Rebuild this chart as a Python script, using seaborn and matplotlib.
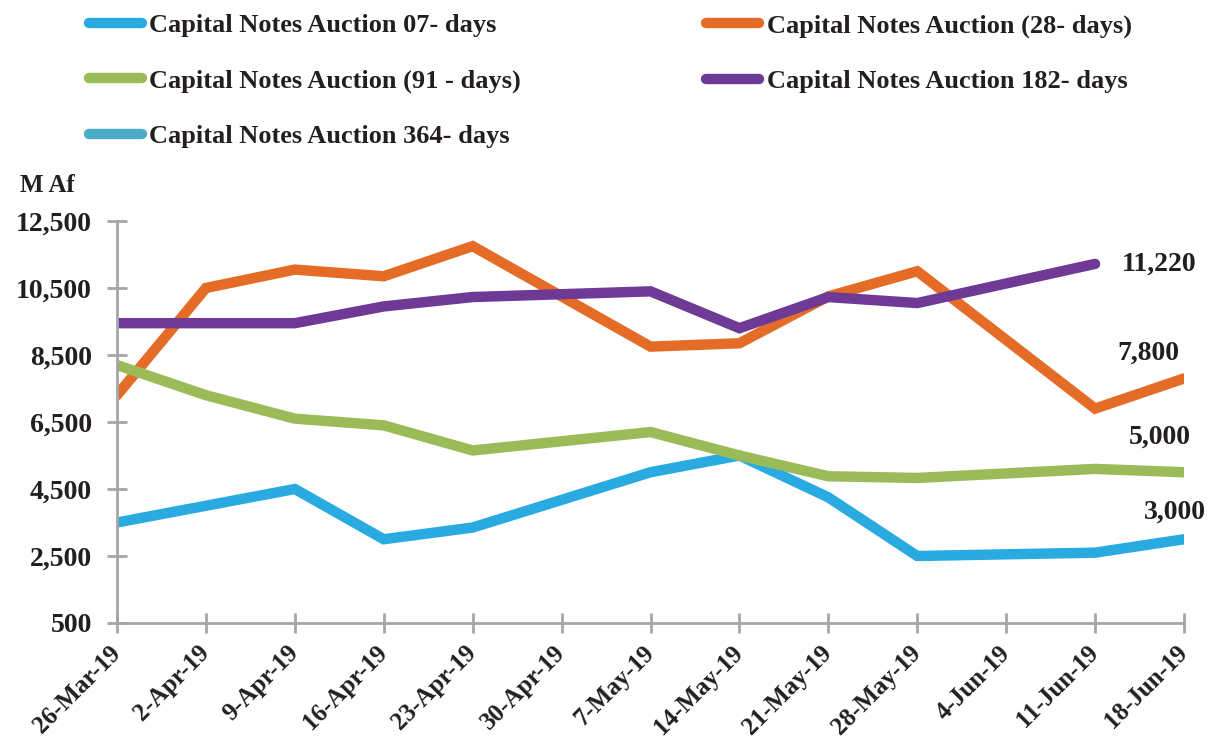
import numpy as np
import pandas as pd
import matplotlib
matplotlib.use("Agg")
import matplotlib.pyplot as plt
from matplotlib.lines import Line2D
import seaborn as sns

dates = ["26-Mar-19", "2-Apr-19", "9-Apr-19", "16-Apr-19", "23-Apr-19", "30-Apr-19",
         "7-May-19", "14-May-19", "21-May-19", "28-May-19", "4-Jun-19", "11-Jun-19", "18-Jun-19"]
nan = np.nan
d07 = [3500, 4000, 4500, 3000, 3350, nan, 5000, 5500, 4250, 2500, nan, 2600, 3000]
d28 = [7300, 10500, 11050, 10850, 11750, nan, 8750, 8850, 10250, 11000, nan, 6900, 7800]
d91 = [8200, 7300, 6600, 6400, 5650, nan, 6200, 5500, 4880, 4830, nan, 5100, 5000]
d182 = [9450, 9450, 9450, 9950, 10230, nan, 10400, 9300, 10230, 10050, nan, 11220, nan]
d364 = [nan] * 13

names = ["Capital Notes Auction 07- days", "Capital Notes Auction (28- days)",
         "Capital Notes Auction (91 - days)", "Capital Notes Auction 182- days",
         "Capital Notes Auction 364- days"]
series = [d07, d28, d91, d182, d364]
colors = ["#29ABE2", "#E46C26", "#9BBB59", "#6F3996", "#4BACC6"]

yticks = [500, 2500, 4500, 6500, 8500, 10500, 12500]
ylabels = ["500", "2,500", "4,500", "6,500", "8,500", "10,500", "12,500"]

sns.set_style("white")
plt.rcParams["font.family"] = ["Liberation Serif", "DejaVu Serif"]
plt.rcParams["font.weight"] = "bold"

rows = []
for name, vals in zip(names, series):
    for i, v in enumerate(vals):
        rows.append({"series": name, "x": i, "value": v})
df = pd.DataFrame(rows).dropna()

fig = plt.figure(figsize=(12.10, 7.49), dpi=100)
ax = fig.add_axes([117 / 1210, 1 - 623 / 749, (1184 - 117) / 1210, (623 - 221) / 749])

sns.lineplot(data=df, x="x", y="value", hue="series", hue_order=names,
             palette=dict(zip(names, colors)), linewidth=7.5, legend=False,
             ax=ax, sort=True, estimator=None, solid_capstyle="round",
             solid_joinstyle="miter")

ax.set_xlim(0, 12)
ax.set_ylim(500, 12500)
ax.set_yticks(yticks)
ax.set_yticklabels(ylabels)
ax.set_xticks(range(len(dates)))
ax.set_xticklabels(dates, rotation=45, ha="right", va="center", rotation_mode="anchor")
ax.set_xlabel("")
ax.set_ylabel("")
for s in ["top", "right"]:
    ax.spines[s].set_visible(False)
for s in ["left", "bottom"]:
    ax.spines[s].set_color("#A6A6A6")
    ax.spines[s].set_linewidth(2)
    ax.spines[s].set_clip_on(False)
ax.tick_params(axis="both", direction="inout", length=14, width=2, color="#A6A6A6",
               labelsize=20, labelcolor="#231F20", bottom=True, left=True)
ax.tick_params(axis="x", labelsize=18, pad=12)
ax.tick_params(axis="y", pad=11)
for lab in ax.get_xticklabels() + ax.get_yticklabels():
    lab.set_fontweight("bold")
for lab in ax.get_xticklabels():
    lab.set_x(lab.get_position()[0])

# data labels
ann = [(11, d182[11], 27, 0, "left"), (12, d28[12], -36, 25, "center"),
       (12, d91[12], -24, 35, "center"), (12, d07[12], -9, 27, "center")]
for x, v, dx, dy, ha in ann:
    ax.annotate(f"{v:,.0f}", (x, v), xytext=(dx, dy), textcoords="offset pixels",
                ha=ha, va="center", fontsize=20, fontweight="bold", color="#231F20",
                annotation_clip=False)

fig.text(20 / 1210, 1 - 186 / 749, "M Af", fontsize=18, fontweight="bold",
         color="#231F20", va="center", ha="left")

handles = [Line2D([0], [0], color=c, lw=7.5, solid_capstyle="round") for c in colors]
order = [0, 2, 4, 1, 3]
leg = fig.legend([handles[i] for i in order], [names[i] for i in order],
                 ncol=2, loc="upper left", bbox_to_anchor=(65 / 1210, 1 + 10 / 749),
                 frameon=False, fontsize=19, handlelength=2.0, handletextpad=0.3,
                 columnspacing=7.0, labelspacing=1.2)
for t in leg.get_texts():
    t.set_fontweight("bold")
    t.set_color("#231F20")

fig.savefig("out.png", dpi=100)
